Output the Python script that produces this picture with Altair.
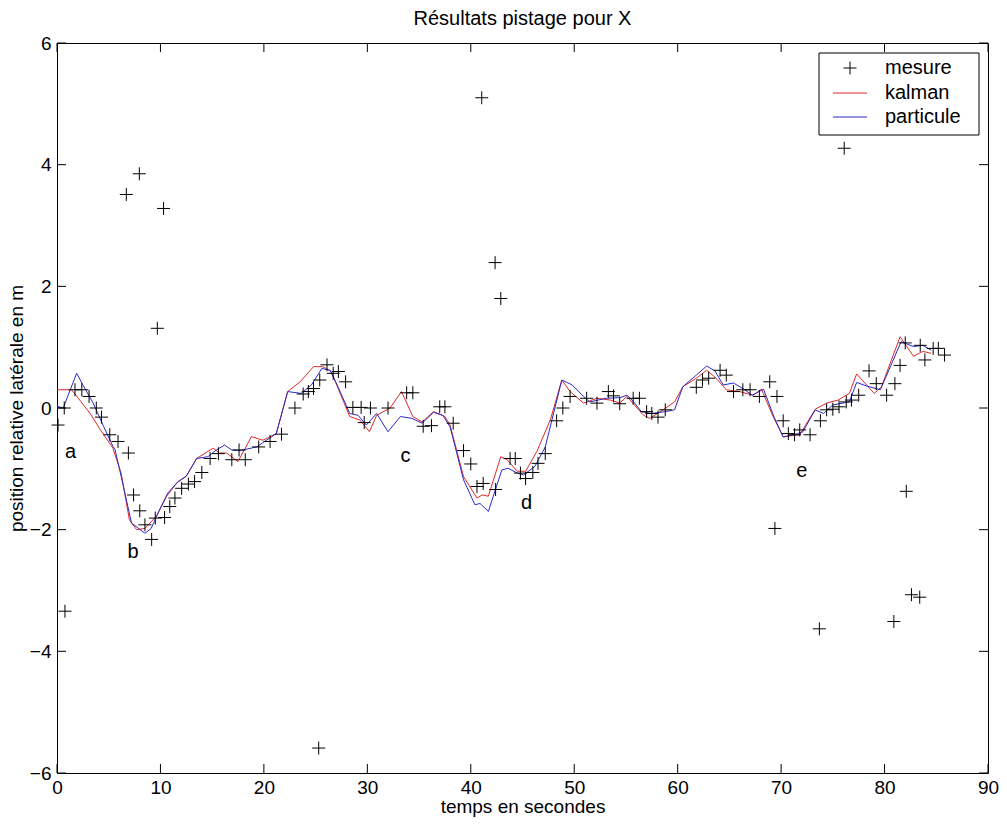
import altair as alt
import pandas as pd

# ---------------- data ----------------
meas_t = [0.1, 0.7, 0.77, 1.74, 2.4, 3.1, 3.8, 4.3, 5.1, 5.9, 6.7, 6.9, 7.4, 7.96, 8.0,
          8.5, 9.15, 9.5, 9.7, 10.3, 10.4, 10.9, 11.4, 12.05, 12.7, 13.3, 14.0, 14.8, 15.6,
          16.9, 17.6, 18.2, 19.5, 20.6, 21.7, 23.0, 23.8, 24.3, 24.8, 25.3, 25.4, 26.1, 26.7,
          27.2, 27.9, 28.6, 29.4, 29.7, 30.3, 32.0, 33.8, 34.4, 35.4, 36.2, 37.0, 37.5, 38.3,
          39.3, 40.0, 40.6, 41.06, 41.2, 42.35, 42.4, 42.9, 43.8, 44.3, 44.8, 45.3, 46.0, 46.5,
          47.2, 48.3, 48.9, 49.6, 51.2, 52.2, 53.3, 53.8, 54.4, 55.7, 56.3, 57.0, 57.5, 58.1,
          58.8, 61.8, 62.4, 63.0, 64.1, 64.7, 65.4, 66.3, 67.0, 67.9, 68.9, 69.4, 69.6, 70.2,
          70.7, 71.3, 71.8, 72.8, 73.7, 73.8, 74.4, 75.0, 75.6, 76.1, 76.3, 76.8, 77.5, 78.5,
          79.2, 80.2, 80.9, 81.0, 81.5, 82.0, 82.1, 82.6, 83.4, 83.45, 83.9, 84.7, 85.2, 85.8]
meas_v = [-0.28, 0.0, -3.34, 0.3, 0.3, 0.19, 0.0, -0.15, -0.44, -0.55, 3.51, -0.74, -1.43, 3.85, -1.69,
          -1.92, -2.16, -1.81, 1.31, 3.28, -1.80, -1.62, -1.48, -1.32, -1.25, -1.21, -1.06, -0.83, -0.75,
          -0.85, -0.69, -0.85, -0.64, -0.55, -0.43, 0.0, 0.23, 0.27, 0.32, -5.59, 0.46, 0.71, 0.57,
          0.60, 0.43, 0.01, 0.01, -0.24, 0.0, 0.0, 0.25, 0.25, -0.30, -0.29, 0.02, 0.02, -0.25,
          -0.70, -0.92, -1.29, 5.1, -1.24, 2.39, -1.34, 1.80, -0.83, -0.83, -1.07, -1.16, -1.06, -0.91,
          -0.75, -0.21, 0.0, 0.19, 0.16, 0.08, 0.27, 0.2, 0.07, 0.16, 0.16, -0.06, -0.09, -0.15,
          -0.03, 0.34, 0.46, 0.49, 0.62, 0.54, 0.27, 0.3, 0.3, 0.19, 0.43, -1.98, 0.19, -0.21,
          -0.42, -0.44, -0.36, -0.44, -3.63, -0.21, -0.03, -0.02, 0.02, 4.27, 0.10, 0.13, 0.21, 0.61,
          0.40, 0.21, -3.51, 0.40, 0.70, 1.07, -1.37, -3.07, -3.11, 1.03, 0.79, 0.98, 0.98, 0.87]

kal_t = [0, 1.4, 2.2, 3.2, 4.2, 5.4, 6.2, 7.0, 7.7, 8.5, 9.6, 10.6, 11.6, 12.5, 13.5, 15.1,
         15.7, 16.4, 17.5, 18.8, 19.9, 21.2, 22.3, 23.5, 24.8, 25.7, 26.5, 28.3, 29.3, 30.2,
         30.9, 32.2, 33.3, 34.4, 35.3, 36.4, 37.5, 38.0, 39.3, 40.6, 41.1, 41.7, 42.9, 43.5,
         44.5, 45.3, 46.4, 47.7, 48.8, 49.6, 50.9, 52.2, 53.5, 54.4, 55.1, 56.7, 57.3, 58.6,
         59.7, 60.5, 61.8, 62.8, 63.6, 64.7, 66.0, 67.3, 68.1, 69.3, 70.2, 71.8, 73.3, 74.4,
         75.5, 76.6, 77.3, 79.0, 79.7, 81.5, 82.8, 83.7, 84.5]
kal_v = [0.3, 0.3, 0.13, -0.09, -0.36, -0.66, -1.07, -1.84, -2.0, -1.98, -1.78, -1.45, -1.23, -1.12,
         -0.83, -0.66, -0.74, -0.74, -0.88, -0.47, -0.53, -0.42, 0.27, 0.43, 0.68, 0.68, 0.60, -0.14,
         -0.2, -0.39, -0.12, 0.0, 0.27, -0.14, -0.23, -0.06, -0.14, -0.28, -1.13, -1.48, -1.43, -1.45,
         -0.8, -0.85, -1.04, -1.04, -0.71, -0.19, 0.46, 0.27, 0.08, 0.16, 0.13, 0.08, 0.19, -0.12,
         -0.17, -0.03, 0.1, 0.35, 0.49, 0.62, 0.51, 0.3, 0.27, 0.21, 0.31, -0.17, -0.47, -0.44,
         -0.02, 0.08, 0.13, 0.24, 0.56, 0.24, 0.35, 1.17, 0.85, 0.93, 0.90]

par_t = [0, 0.6, 1.9, 2.5, 3.5, 4.5, 5.4, 5.6, 6.2, 7.2, 8.5, 9.1, 9.9, 10.7, 11.7, 12.5, 13.5,
         14.6, 15.4, 16.2, 16.9, 17.7, 19.3, 21.2, 22.3, 23.6, 24.6, 25.6, 26.4, 27.0, 28.3, 29.1,
         29.9, 30.9, 32.0, 33.2, 34.3, 35.3, 36.4, 37.3, 38.0, 39.3, 40.4, 40.9, 41.7, 43.0, 43.6,
         44.5, 45.1, 46.2, 47.2, 48.8, 49.8, 50.9, 51.5, 53.1, 54.4, 55.1, 55.6, 56.5, 57.5, 58.8,
         59.7, 60.5, 61.8, 62.8, 63.6, 64.4, 65.4, 66.4, 67.2, 68.3, 69.3, 70.2, 71.6, 72.1, 73.3,
         74.1, 75.0, 76.6, 77.3, 78.3, 79.6, 81.6, 82.8, 83.7, 84.5]
par_v = [0.03, 0.0, 0.57, 0.38, 0.08, -0.3, -0.63, -0.68, -1.12, -1.89, -2.06, -1.98, -1.68, -1.40,
         -1.21, -1.12, -0.83, -0.8, -0.69, -0.61, -0.69, -0.70, -0.64, -0.42, 0.27, 0.24, 0.38, 0.65,
         0.62, 0.41, -0.09, -0.12, -0.28, -0.09, -0.39, -0.14, -0.17, -0.25, -0.07, -0.12, -0.31,
         -1.18, -1.59, -1.57, -1.70, -1.02, -0.99, -1.07, -1.10, -0.96, -0.64, 0.46, 0.38, 0.19, 0.1,
         0.16, 0.17, 0.21, 0.13, -0.06, -0.09, -0.06, -0.03, 0.35, 0.54, 0.69, 0.61, 0.38, 0.41, 0.31,
         0.21, 0.31, -0.14, -0.48, -0.42, -0.39, -0.03, -0.09, 0.05, 0.10, 0.42, 0.36, 0.30, 1.09,
         1.01, 1.03, 0.95]

ann_t = [1.3, 7.35, 33.7, 45.4, 72.0]
ann_v = [-0.73, -2.37, -0.79, -1.56, -1.04]
ann_txt = ["a", "b", "c", "d", "e"]

xticks = list(range(0, 91, 10))
yticks = list(range(-6, 7, 2))

legend_labels = ["mesure", "kalman", "particule"]

# ---------------- chart ----------------
W, H = 931, 730
FONT = "Liberation Sans"
RED = "#e02828"
BLUE = "#2a2ac8"
TICK = 9

xs = alt.Scale(domain=[0, 90], nice=False, zero=False)
ys = alt.Scale(domain=[-6, 6], nice=False, zero=False)


def X():
    return alt.X("t:Q", scale=xs,
                 axis=alt.Axis(values=xticks, title="temps en secondes", labelPadding=5,
                               titlePadding=0, labelFlush=False, titleFontSize=19))


def Y():
    return alt.Y("v:Q", scale=ys,
                 axis=alt.Axis(values=yticks, title="position relative latérale en m",
                               labelPadding=6, titlePadding=3, titleFontSize=19))


meas = pd.DataFrame({"t": meas_t, "v": meas_v})
kal = pd.DataFrame({"t": kal_t, "v": kal_v})
par = pd.DataFrame({"t": par_t, "v": par_v})
ann = pd.DataFrame({"t": ann_t, "v": ann_v, "txt": ann_txt})
xt = pd.DataFrame({"t": xticks})
yt = pd.DataFrame({"v": yticks})

cross = "M-1,0L1,0M0,-1L0,1"

kal_line = alt.Chart(kal).mark_line(color=RED, strokeWidth=1).encode(x=X(), y=Y())
par_line = alt.Chart(par).mark_line(color=BLUE, strokeWidth=1).encode(x=X(), y=Y())
pts = alt.Chart(meas).mark_point(shape=cross, size=169, filled=False, color="black",
                                 strokeWidth=1, opacity=1).encode(x=X(), y=Y())
labels = alt.Chart(ann).mark_text(font=FONT, fontSize=20, color="black").encode(
    x=X(), y=Y(), text="txt:N")

tick_b = alt.Chart(xt).mark_rule(color="black", strokeWidth=1).encode(
    x=X(), y=alt.value(H - TICK), y2=alt.value(H))
tick_t = alt.Chart(xt).mark_rule(color="black", strokeWidth=1).encode(
    x=X(), y=alt.value(0), y2=alt.value(TICK))
tick_l = alt.Chart(yt).mark_rule(color="black", strokeWidth=1).encode(
    y=Y(), x=alt.value(0), x2=alt.value(TICK))
tick_r = alt.Chart(yt).mark_rule(color="black", strokeWidth=1).encode(
    y=Y(), x=alt.value(W - TICK), x2=alt.value(W))

# legend box (drawn in pixel space, like MATLAB's legend)
one = alt.Data(values=[{"k": 0}])
lg_box = alt.Chart(one).mark_rect(fill="white", stroke="black", strokeWidth=1).encode(
    x=alt.value(762), x2=alt.value(922), y=alt.value(10), y2=alt.value(92))
lg_cross = alt.Chart(one).mark_point(shape=cross, size=169, filled=False, color="black",
                                     strokeWidth=1, opacity=1).encode(
    x=alt.value(793), y=alt.value(25))
lg_red = alt.Chart(one).mark_rule(color=RED, strokeWidth=1).encode(
    x=alt.value(776), x2=alt.value(810), y=alt.value(50))
lg_blue = alt.Chart(one).mark_rule(color=BLUE, strokeWidth=1).encode(
    x=alt.value(776), x2=alt.value(810), y=alt.value(74))
lg_texts = [
    alt.Chart(one).mark_text(font=FONT, fontSize=20, align="left", baseline="middle",
                             color="black").encode(
        x=alt.value(828), y=alt.value(yy), text=alt.value(lab))
    for lab, yy in zip(legend_labels, [25, 50, 74])
]

chart = alt.layer(
    kal_line, par_line, pts, labels, tick_b, tick_t, tick_l, tick_r,
    lg_box, lg_cross, lg_red, lg_blue, *lg_texts
).properties(
    width=W, height=H,
    autosize=alt.AutoSizeParams(type="none"),
    padding={"left": 49, "top": 35, "right": 11, "bottom": 57},
    title=alt.Title("Résultats pistage pour X", font=FONT, fontSize=20,
                    fontWeight="normal", color="black", offset=5),
).configure_view(
    stroke="black", strokeWidth=1
).configure_axis(
    grid=False, domain=False, ticks=False,
    labelFont=FONT, labelFontSize=19, labelColor="black",
    titleFont=FONT, titleFontSize=19, titleFontWeight="normal", titleColor="black",
)

chart.save("out.html", embed_options={"renderer": "svg", "actions": False})
